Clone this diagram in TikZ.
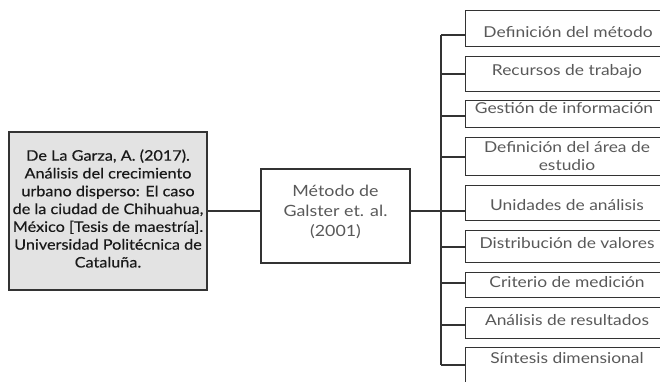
\documentclass[tikz,border=0pt]{standalone}
\usepackage{fontspec}
\setmainfont{Lato}
\newfontfamily\rfont[FakeStretch=1.16]{Lato}
\newfontfamily\mfont[FakeStretch=1.15]{Lato}
\newfontfamily\lfont[FakeStretch=1.12,FakeBold=0.3]{Lato}
\definecolor{txtgray}{HTML}{595959}
\definecolor{linecol}{HTML}{333333}
\definecolor{boxfill}{HTML}{E3E3E3}
\begin{document}
\begin{tikzpicture}[x=1pt,y=-1pt,
  ln/.style={draw=linecol,line width=1.2pt},
  rbox/.style={ln,anchor=north west,minimum width=220pt,inner sep=0pt},
  rtxt/.style={text=txtgray,font=\rfont\fontsize{15}{17}\selectfont,align=center,inner sep=0pt},
]
\useasboundingbox (0,0) rectangle (660,382);
\clip (0,0) rectangle (660,382);
% left box
\node[ln,fill=boxfill,minimum width=198pt,minimum height=158pt,inner sep=0pt] (src) at (108,211) {};
\node[text=black!90,font=\lfont\fontsize{14.5}{17.8}\selectfont,align=center,inner sep=0pt] (srct) at (108,208.5)
 {De La Garza, A. (2017).\\Análisis del crecimiento\\urbano disperso: El caso\\de la ciudad de Chihuahua,\\México [Tesis de maestría].\\Universidad Politécnica de\\Cataluña.};
% middle box
\node[ln,minimum width=149pt,minimum height=94pt,inner sep=0pt] (mid) at (335.5,216) {};
\node[rtxt,font=\mfont\fontsize{15.5}{20}\selectfont] (midt) at (335.5,212) {Método de\\Galster et. al.\\(2001)};
\coordinate (ml) at (261,211);
\coordinate (mr) at (410,211);
\coordinate (sl) at (207,211);
\draw[ln] (sl) -- (ml);
% spine
\coordinate (s1) at (441,35);
\coordinate (s2) at (441,74);
\coordinate (s3) at (441,116);
\coordinate (s4) at (441,157);
\coordinate (s5) at (441,211);
\coordinate (s6) at (441,247);
\coordinate (s7) at (441,283);
\coordinate (s8) at (441,325);
\coordinate (s9) at (441,365);
\draw[ln] (mr) -- (s5);
\draw[ln] (s1) -- (s9);
% right boxes
\node[rbox,minimum height=36pt] (r1) at (465,10) {};
\node[rbox,minimum height=35pt] (r2) at (465,56) {};
\node[rbox,minimum height=27pt] (r3) at (465,100) {};
\node[rbox,minimum height=38pt] (r4) at (465,137) {};
\node[rbox,minimum height=35pt] (r5) at (465,185) {};
\node[rbox,minimum height=32pt] (r6) at (465,230) {};
\node[rbox,minimum height=25pt] (r7) at (465,272) {};
\node[rbox,minimum height=31pt] (r8) at (465,307) {};
\node[rbox,minimum height=50pt] (r9) at (465,347) {};
\foreach \i in {1,...,9} { \draw[ln] (s\i) -- (s\i -| r\i.west); }
% texts
\node[rtxt] (t1) at (568,32) {Definición del método};
\node[rtxt] (t2) at (567,71) {Recursos de trabajo};
\node[rtxt] (t3) at (564,108) {Gestión de información};
\node[rtxt,font=\rfont\fontsize{15}{18}\selectfont] (t4) at (567,156) {Definición del área de\\estudio};
\node[rtxt] (t5) at (567,205) {Unidades de análisis};
\node[rtxt] (t6) at (567,243) {Distribución de valores};
\node[rtxt] (t7) at (567,282) {Criterio de medición};
\node[rtxt] (t8) at (567,320) {Análisis de resultados};
\node[rtxt] (t9) at (567,358) {Síntesis dimensional};
\end{tikzpicture}
\end{document}
